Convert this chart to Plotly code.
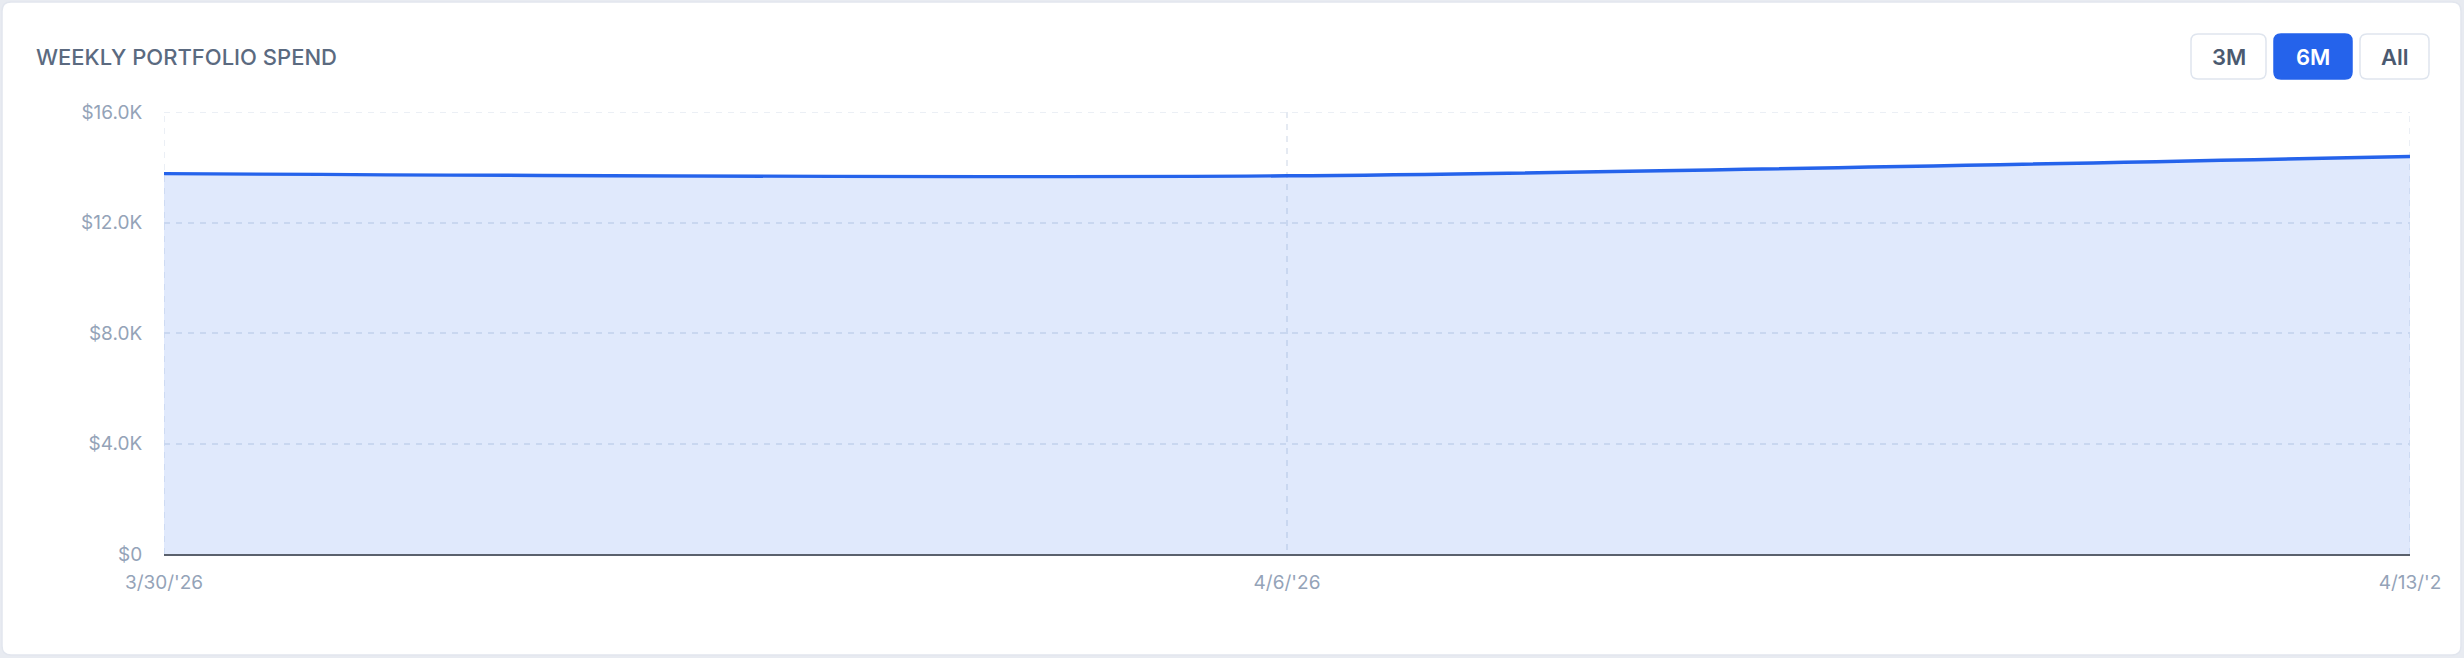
import plotly.graph_objects as go

# ---- data ----
weeks = ["2026-03-30", "2026-04-06", "2026-04-13"]
spend = [13770, 13690, 14390]
x_tick_labels = ["3/30/'26", "4/6/'26", "4/13/'2"]
y_tick_vals = [0, 4000, 8000, 12000, 16000]
y_tick_labels = ["$0", "$4.0K", "$8.0K", "$12.0K", "$16.0K"]
range_buttons = ["3M", "6M", "All"]
active_button = "6M"

W, H = 2464, 658
L, R, T, B = 164, 54, 112, 104
PW, PH = W - L - R, H - T - B

FONT = "Inter, Lato, sans-serif"
BLUE = "#2563eb"
GRID = "#e5eaf2"
TICK = "#94a3b8"


def px(x):
    # page pixel x -> paper coord (paper spans the plot area)
    return (x - L) / PW


def py(y):
    # page pixel y (top origin) -> paper coord
    return (H - B - y) / PH


fig = go.Figure()
fig.add_trace(go.Scatter(
    x=weeks, y=spend, mode="lines",
    line=dict(color=BLUE, width=3.4, shape="spline", smoothing=0.8),
    fill="tozeroy", fillcolor="rgba(37,99,235,0.14)",
    hoverinfo="skip", showlegend=False,
))


def rounded_rect(x0, y0, x1, y1, r):
    return (f"M {px(x0 + r)},{py(y0)} L {px(x1 - r)},{py(y0)} "
            f"Q {px(x1)},{py(y0)} {px(x1)},{py(y0 + r)} "
            f"L {px(x1)},{py(y1 - r)} Q {px(x1)},{py(y1)} {px(x1 - r)},{py(y1)} "
            f"L {px(x0 + r)},{py(y1)} Q {px(x0)},{py(y1)} {px(x0)},{py(y1 - r)} "
            f"L {px(x0)},{py(y0 + r)} Q {px(x0)},{py(y0)} {px(x0 + r)},{py(y0)} Z")


shapes = []
# card
shapes.append(dict(type="path", xref="paper", yref="paper", layer="below",
                   path=rounded_rect(2, 2, 2461, 655, 9),
                   fillcolor="white", line=dict(color="#e2e6ee", width=1.5)))

# edge grid lines (plotly omits grid lines on the plot-area border)
grid_line = dict(color=GRID, width=1.5, dash="6px,6px")
for xv in (weeks[0], weeks[-1]):
    shapes.append(dict(type="line", xref="x", yref="y", layer="below",
                       x0=xv, x1=xv, y0=y_tick_vals[0], y1=y_tick_vals[-1],
                       line=grid_line))
shapes.append(dict(type="line", xref="x", yref="y", layer="below",
                   x0=weeks[0], x1=weeks[-1], y0=y_tick_vals[-1], y1=y_tick_vals[-1],
                   line=grid_line))

annotations = [dict(
    text="WEEKLY PORTFOLIO SPEND", xref="paper", yref="paper",
    x=px(34), y=py(57), xanchor="left", yanchor="middle", showarrow=False,
    font=dict(family=FONT, size=22, color="#5b6a80", weight=500),
)]

# range buttons
btn_boxes = [(2191, 2266), (2274, 2352), (2360, 2429)]
for label, (bx0, bx1) in zip(range_buttons, btn_boxes):
    active = label == active_button
    shapes.append(dict(type="path", xref="paper", yref="paper", layer="below",
                       path=rounded_rect(bx0, 34, bx1, 79, 7),
                       fillcolor=BLUE if active else "white",
                       line=dict(color=BLUE if active else "#dfe5ee", width=1.5)))
    annotations.append(dict(
        text=label, xref="paper", yref="paper",
        x=px((bx0 + bx1) / 2), y=py(57), xanchor="center", yanchor="middle",
        showarrow=False,
        font=dict(family=FONT, size=22, color="white" if active else "#4b5a70", weight=600),
    ))

fig.update_layout(
    width=W, height=H,
    margin=dict(l=L, r=R, t=T, b=B, pad=0),
    paper_bgcolor="#e8ebf1",
    plot_bgcolor="rgba(0,0,0,0)",
    shapes=shapes, annotations=annotations,
    font=dict(family=FONT),
    xaxis=dict(
        type="date", range=[weeks[0], weeks[-1]],
        tickvals=weeks, ticktext=x_tick_labels,
        showgrid=True, gridcolor=GRID, griddash="6px,6px", gridwidth=1.5,
        showline=True, linecolor="#5a616d", linewidth=2.2,
        ticks="outside", ticklen=10, tickcolor="rgba(0,0,0,0)",
        tickfont=dict(family=FONT, size=19, color=TICK),
        zeroline=False, fixedrange=True,
    ),
    yaxis=dict(
        range=[0, 16000], tickvals=y_tick_vals, ticktext=y_tick_labels,
        showgrid=True, gridcolor=GRID, griddash="6px,6px", gridwidth=1.5,
        showline=False, zeroline=False,
        ticks="outside", ticklen=17, tickcolor="rgba(0,0,0,0)",
        tickfont=dict(family=FONT, size=19, color=TICK),
        fixedrange=True,
    ),
)

fig.write_html(
    "out.html",
    config=dict(displayModeBar=False),
    post_script="document.body.style.margin='0';document.body.style.padding='0';"
                "document.body.style.overflow='hidden';",
)
